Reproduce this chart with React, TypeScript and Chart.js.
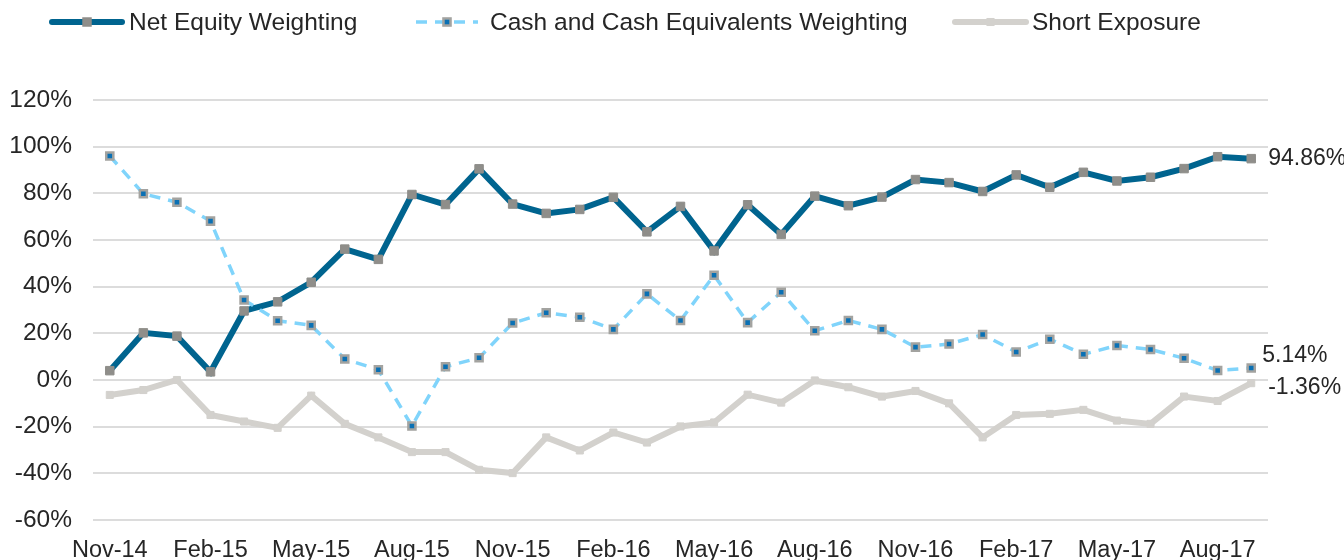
import React, { useEffect, useRef } from "react";
import { Chart, registerables } from "chart.js";

Chart.register(...registerables);

const months = [
  "Nov-14", "Dec-14", "Jan-15", "Feb-15", "Mar-15", "Apr-15", "May-15", "Jun-15", "Jul-15", "Aug-15", "Sep-15", "Oct-15",
  "Nov-15", "Dec-15", "Jan-16", "Feb-16", "Mar-16", "Apr-16", "May-16", "Jun-16", "Jul-16", "Aug-16", "Sep-16", "Oct-16",
  "Nov-16", "Dec-16", "Jan-17", "Feb-17", "Mar-17", "Apr-17", "May-17", "Jun-17", "Jul-17", "Aug-17", "Sep-17",
];

const netEquity = [
  4.0, 20.2, 18.8, 3.5, 29.6, 33.5, 41.9, 56.1, 51.7, 79.5, 75.2, 90.5, 75.4, 71.4, 73.1, 78.3, 63.5, 74.4, 55.3, 75.1,
  62.4, 78.8, 74.7, 78.4, 85.9, 84.6, 80.8, 87.9, 82.6, 89.0, 85.3, 86.9, 90.6, 95.7, 94.86,
];

const cashWeighting = [
  96.0, 79.8, 76.2, 68.1, 34.3, 25.4, 23.4, 9.0, 4.4, -19.7, 5.7, 9.5, 24.4, 28.8, 26.9, 21.7, 36.9, 25.5, 44.9, 24.6,
  37.6, 21.1, 25.5, 21.7, 14.1, 15.4, 19.5, 12.0, 17.5, 11.0, 14.8, 13.1, 9.3, 4.1, 5.14,
];

const shortExposure = [
  -6.4, -4.3, 0, -15.0, -17.8, -20.5, -6.7, -18.8, -24.6, -30.9, -30.9, -38.5, -39.9, -24.6, -30.2, -22.5, -26.8, -19.9,
  -18.2, -6.3, -9.7, -0.2, -3.1, -7.1, -4.7, -10.0, -24.6, -15.0, -14.5, -12.8, -17.4, -18.8, -7.1, -9.0, -1.36,
];

const seriesNames = ["Net Equity Weighting", "Cash and Cash Equivalents Weighting", "Short Exposure"];

const FONT = "'Liberation Sans', Arial, sans-serif";
const TEXT = "#262626";

const legendPlugin = {
  id: "customLegend",
  afterDraw(chart: any) {
    const ctx = chart.ctx;
    const items = [
      { line: [52, 122], text: 129 },
      { line: [416, 478], text: 490 },
      { line: [955, 1026], text: 1032 },
    ];
    const y = 22;
    ctx.save();
    chart.data.datasets.forEach((ds: any, i: number) => {
      const it = items[i];
      ctx.beginPath();
      ctx.lineWidth = ds.borderWidth;
      ctx.strokeStyle = ds.borderColor;
      ctx.lineCap = ds.borderDash ? "butt" : "round";
      ctx.setLineDash(ds.borderDash || []);
      ctx.moveTo(it.line[0], y);
      ctx.lineTo(it.line[1], y);
      ctx.stroke();
      ctx.setLineDash([]);
      const cx = (it.line[0] + it.line[1]) / 2;
      const s = ds.pointRadius * Math.SQRT2;
      ctx.fillStyle = ds.pointBorderColor;
      ctx.fillRect(cx - s / 2 - ds.pointBorderWidth / 2, y - s / 2 - ds.pointBorderWidth / 2, s + ds.pointBorderWidth, s + ds.pointBorderWidth);
      ctx.fillStyle = ds.pointBackgroundColor;
      ctx.fillRect(cx - s / 2 + ds.pointBorderWidth / 2, y - s / 2 + ds.pointBorderWidth / 2, s - ds.pointBorderWidth, s - ds.pointBorderWidth);
      ctx.fillStyle = TEXT;
      ctx.font = `24.5px ${FONT}`;
      ctx.textAlign = "left";
      ctx.textBaseline = "middle";
      ctx.fillText(ds.label, it.text, y + 1);
    });
    ctx.restore();
  },
};

const endLabelPlugin = {
  id: "endLabels",
  afterDatasetsDraw(chart: any) {
    const ctx = chart.ctx;
    const offsets = [
      { dx: 17, dy: 0 },
      { dx: 11, dy: -12 },
      { dx: 17, dy: 4 },
    ];
    ctx.save();
    ctx.font = `23px ${FONT}`;
    ctx.fillStyle = TEXT;
    ctx.textAlign = "left";
    ctx.textBaseline = "middle";
    chart.data.datasets.forEach((ds: any, i: number) => {
      const meta = chart.getDatasetMeta(i);
      const pt = meta.data[meta.data.length - 1];
      const v = ds.data[ds.data.length - 1];
      ctx.fillText(`${v.toFixed(2)}%`, pt.x + offsets[i].dx, pt.y + offsets[i].dy);
    });
    ctx.restore();
  },
};

export default function App() {
  const ref = useRef<HTMLCanvasElement>(null);

  useEffect(() => {
    if (!ref.current) return;
    const chart = new Chart(ref.current, {
      type: "line",
      data: {
        labels: months,
        datasets: [
          {
            label: seriesNames[0],
            data: netEquity,
            borderColor: "#00648f",
            borderWidth: 6,
            pointStyle: "rect",
            pointRadius: 6,
            pointBorderWidth: 1,
            pointBackgroundColor: "#8f8e8a",
            pointBorderColor: "#8f8e8a",
            tension: 0,
            order: 2,
          },
          {
            label: seriesNames[1],
            data: cashWeighting,
            borderColor: "#80d4fb",
            borderWidth: 3.5,
            borderDash: [11, 8],
            pointStyle: "rect",
            pointRadius: 5,
            pointBorderWidth: 2.5,
            pointBackgroundColor: "#0a70b4",
            pointBorderColor: "#a3a3a0",
            tension: 0,
            order: 1,
          },
          {
            label: seriesNames[2],
            data: shortExposure,
            borderColor: "#d3d1cd",
            borderWidth: 6,
            pointStyle: "rect",
            pointRadius: 5,
            pointBorderWidth: 1,
            pointBackgroundColor: "#d3d1cd",
            pointBorderColor: "#d3d1cd",
            tension: 0,
            order: 0,
          },
        ],
      },
      options: {
        animation: false,
        responsive: true,
        maintainAspectRatio: false,
        layout: { padding: { top: 100, right: 76, left: 0, bottom: 0 } },
        plugins: {
          legend: { display: false },
          tooltip: { enabled: false },
        },
        scales: {
          x: {
            offset: true,
            grid: { display: false, drawTicks: false },
            border: { display: false },
            ticks: {
              autoSkip: false,
              maxRotation: 0,
              padding: 16,
              color: TEXT,
              font: { family: FONT, size: 23.5 },
              callback: (_v: any, i: number) => (i % 3 === 0 ? months[i] : ""),
            },
            afterFit: (scale: any) => {
              scale.height = 40;
            },
          },
          y: {
            min: -60,
            max: 120,
            grid: { color: "#dcdcdc", lineWidth: 2, drawTicks: false },
            border: { display: false },
            ticks: {
              stepSize: 20,
              padding: 21,
              color: TEXT,
              font: { family: FONT, size: 24.5 },
              callback: (v: any) => `${v}%`,
            },
            afterFit: (scale: any) => {
              scale.width = 93;
            },
          },
        },
      },
      plugins: [legendPlugin, endLabelPlugin],
    });
    return () => chart.destroy();
  }, []);

  return (
    <div style={{ position: "fixed", left: 0, top: 0, width: 1344, height: 560, background: "#fff" }}>
      <canvas ref={ref} />
    </div>
  );
}
